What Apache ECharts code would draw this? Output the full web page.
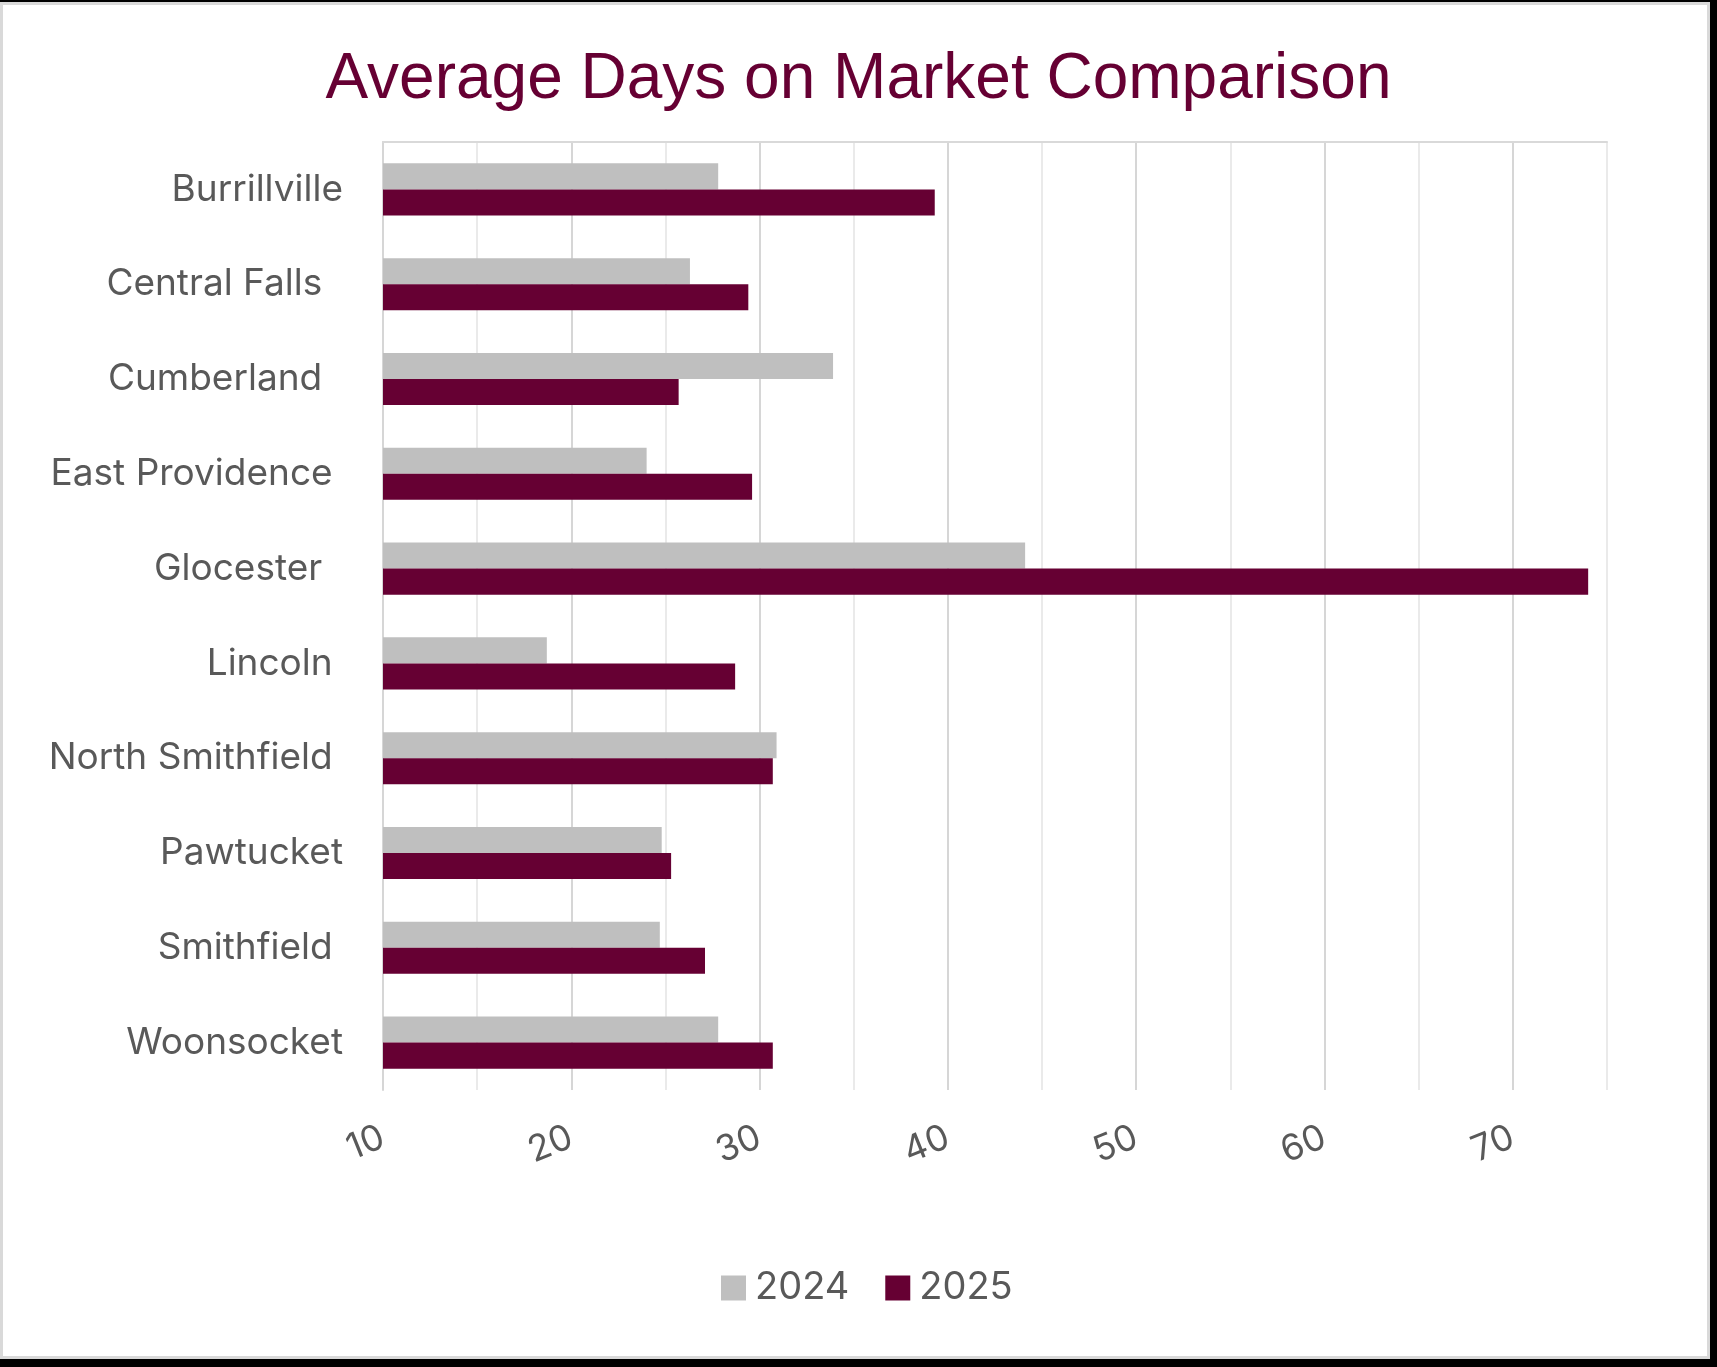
<!DOCTYPE html>
<html>
<head>
<meta charset="utf-8">
<script src="https://cdn.jsdelivr.net/npm/echarts@6/dist/echarts.min.js"></script>
<style>
  html, body { margin: 0; padding: 0; background: #000; width: 1717px; height: 1367px; overflow: hidden; }
  #frame { position: absolute; left: 0; top: 2px; width: 1710px; height: 1357px; box-sizing: border-box; border: 3px solid #D9D9D9; background: #fff; }
  #chart { position: absolute; left: 0; top: 0; width: 1717px; height: 1367px; }
</style>
</head>
<body>
<div id="frame"></div>
<div id="chart"></div>
<script>
const categories = ['Burrillville', 'Central Falls', 'Cumberland', 'East Providence', 'Glocester', 'Lincoln', 'North Smithfield', 'Pawtucket', 'Smithfield', 'Woonsocket'];
const values2024 = [27.8, 26.3, 33.9, 24.0, 44.1, 18.7, 30.9, 24.8, 24.7, 27.8];
const values2025 = [39.3, 29.4, 25.7, 29.6, 74.0, 28.7, 30.7, 25.3, 27.1, 30.7];
const seriesNames = ['2024', '2025'];
const titleText = 'Average Days on Market Comparison';
// trailing spaces seen after some category names in the original
const labelTrail = [0, 2, 2, 1, 2, 1, 1, 0, 1, 0];

const chart = echarts.init(document.getElementById('chart'), null, { renderer: 'canvas' });
const textColor = '#595959';
const option = {
  backgroundColor: 'transparent',
  animation: false,
  title: {
    text: titleText,
    left: 'center',
    top: 43,
    textStyle: { fontFamily: 'Liberation Sans', fontWeight: 'normal', fontSize: 64, color: '#660033' }
  },
  legend: {
    data: seriesNames,
    left: 716,
    top: 1264,
    icon: 'rect',
    itemWidth: 25,
    itemHeight: 25,
    itemGap: 36,
    textStyle: { fontFamily: 'Inter', fontSize: 38, color: textColor, padding: [0, 0, 0, 4] }
  },
  grid: { left: 383, right: 110, top: 142, bottom: 277, containLabel: false },
  xAxis: [{
    type: 'value',
    min: 10,
    max: 75,
    interval: 5,
    position: 'bottom',
    axisLine: { show: false },
    axisTick: { show: false },
    splitLine: { show: true, lineStyle: { color: ['#D6D6D6', '#EAEAEA'], width: 2 } },
    axisLabel: {
      rotate: 22,
      margin: 46,
      fontFamily: 'Inter',
      fontSize: 36,
      color: textColor,
      formatter: v => (v % 10 === 0 ? String(v) : '')
    }
  }, {
    type: 'value',
    min: 10,
    max: 75,
    interval: 5,
    position: 'top',
    axisLine: { show: true, lineStyle: { color: '#D9D9D9', width: 2 } },
    axisTick: { show: false },
    axisLabel: { show: false },
    splitLine: { show: false }
  }],
  yAxis: {
    type: 'category',
    data: categories,
    inverse: true,
    axisLine: { show: true, lineStyle: { color: '#D6D6D6', width: 2 } },
    axisTick: { show: false },
    axisLabel: {
      fontFamily: 'Inter',
      fontSize: 37,
      color: textColor,
      margin: 40,
      formatter: (v, i) => v + ' '.repeat(labelTrail[i] || 0)
    }
  },
  series: [{
    name: seriesNames[0],
    type: 'bar',
    data: values2024,
    itemStyle: { color: '#BFBFBF' },
    barGap: '0%',
    barCategoryGap: '45%'
  }, {
    name: seriesNames[1],
    type: 'bar',
    data: values2025,
    itemStyle: { color: '#660033' },
    barGap: '0%',
    barCategoryGap: '45%'
  }]
};
chart.setOption(option);
</script>
</body>
</html>
